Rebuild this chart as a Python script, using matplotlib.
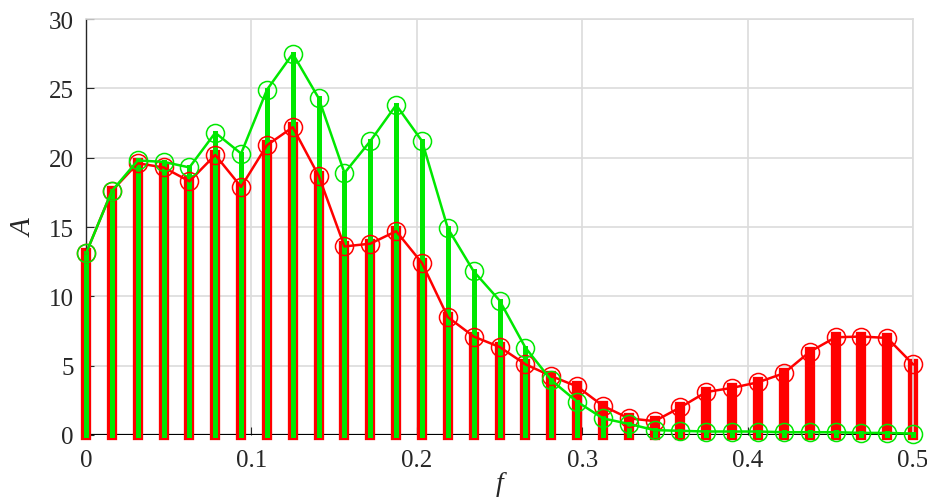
import numpy as np
import matplotlib
matplotlib.use('Agg')
import matplotlib.pyplot as plt

# frequency bins 0 .. 0.5 (step 1/64)
freq = [i / 64 for i in range(33)]

amp_red = [13.1, 17.6, 19.6, 19.3, 18.3, 20.2, 17.9, 20.9, 22.2, 18.7,
           13.6, 13.8, 14.7, 12.4, 8.5, 7.1, 6.35, 5.1, 4.25, 3.5,
           2.1, 1.2, 1.0, 2.0, 3.1, 3.4, 3.8, 4.45, 6.0, 7.05,
           7.1, 7.0, 5.1]
amp_green = [13.1, 17.6, 19.8, 19.7, 19.3, 21.8, 20.3, 24.9, 27.5, 24.3,
             18.9, 21.2, 23.8, 21.2, 14.9, 11.8, 9.7, 6.3, 3.95, 2.4,
             1.2, 0.8, 0.35, 0.3, 0.25, 0.25, 0.25, 0.2, 0.2, 0.2,
             0.15, 0.15, 0.1]

red = '#ff0000'
green = '#00e800'

plt.rcParams['font.family'] = ['Liberation Serif', 'DejaVu Serif']

fig = plt.figure(figsize=(9.27, 5.02), dpi=100)
ax = fig.add_axes([0.0928, 0.1315, 0.8922, 0.8285])

ax.axhline(0, color='black', lw=1.6, zorder=1)

st_r = ax.vlines(freq, 0, amp_red, colors=red, linewidth=7.4, zorder=2, clip_on=False)
st_r.set_capstyle('projecting')
st_g = ax.vlines(freq, 0, amp_green, colors=green, linewidth=3.6, zorder=3, clip_on=False)
st_g.set_capstyle('projecting')

ax.plot(freq, amp_red, color=red, lw=1.8, marker='o', ms=13, mfc='none',
        mec=red, mew=1.1, zorder=4, clip_on=False)
ax.plot(freq, amp_green, color=green, lw=1.8, marker='o', ms=13, mfc='none',
        mec=green, mew=1.1, zorder=5, clip_on=False)

ax.set_xlim(0, 0.5)
ax.set_ylim(0, 30)
ax.set_xticks([0, 0.1, 0.2, 0.3, 0.4, 0.5])
ax.set_xticklabels(['0', '0.1', '0.2', '0.3', '0.4', '0.5'])
ax.set_yticks([0, 5, 10, 15, 20, 25, 30])

ax.grid(True, color='#dcdcdc', lw=1.2, zorder=0)
ax.set_axisbelow(True)

for s in ['top', 'right']:
    ax.spines[s].set_color('#dcdcdc')
    ax.spines[s].set_linewidth(1.2)
ax.spines['left'].set_color('#262626')
ax.spines['left'].set_linewidth(1.0)
ax.spines['bottom'].set_visible(False)

ax.tick_params(axis='both', direction='in', labelsize=18, colors='#262626', length=6)
ax.tick_params(axis='x', pad=10)
ax.tick_params(axis='y', pad=9)

ax.set_xlabel('f', fontsize=20, style='italic', color='#262626', labelpad=0)
ax.set_ylabel('A', fontsize=21, style='italic', color='#262626', labelpad=8)

plt.savefig('out.png', dpi=100)
